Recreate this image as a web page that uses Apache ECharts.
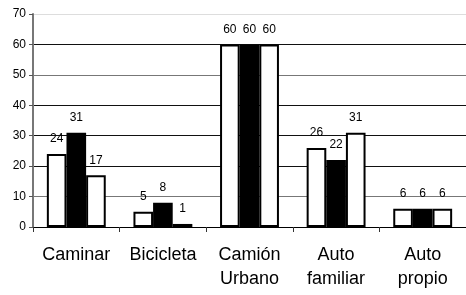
<!DOCTYPE html>
<html><head><meta charset="utf-8">
<script src="https://cdn.jsdelivr.net/npm/echarts@6/dist/echarts.min.js"></script>
<style>html,body{margin:0;padding:0;background:#fff}#c{width:466px;height:295px}</style>
</head><body><div id="c"></div>
<script>
const categories = ['Caminar', 'Bicicleta', 'Camión\nUrbano', 'Auto\nfamiliar', 'Auto\npropio'];
const series1 = [24, 5, 60, 26, 6];
const series2 = [31, 8, 60, 22, 6];
const series3 = [17, 1, 60, 31, 6];
const yTicks = [0, 10, 20, 30, 40, 50, 60, 70];

const font = 'Liberation Sans, Arial, sans-serif';
const lbl = {show: true, position: 'top', distance: 9, color: '#000', fontSize: 12, fontFamily: font};
const chart = echarts.init(document.getElementById('c'), null, {renderer: 'canvas'});
chart.setOption({
  animation: false,
  grid: {left: 33, right: -4, top: 14, bottom: 68, containLabel: false},
  xAxis: {
    type: 'category', data: categories,
    axisLine: {lineStyle: {color: '#000', width: 1}},
    axisTick: {show: true, length: 5, lineStyle: {color: '#333'}},
    axisLabel: {color: '#000', fontSize: 18, lineHeight: 24, margin: 16, fontFamily: font, interval: 0}
  },
  yAxis: {
    type: 'value', min: yTicks[0], max: yTicks[yTicks.length - 1], interval: 10,
    axisLine: {show: true, lineStyle: {color: '#777', width: 2}},
    axisTick: {show: true, length: 4, lineStyle: {color: '#555'}},
    axisLabel: {color: '#000', fontSize: 12, margin: 7, fontFamily: font},
    splitLine: {show: true, lineStyle: {color: ['#000', '#777', '#111', '#111', '#111', '#777', '#111', '#ddd'], width: 1}}
  },
  series: [
    {type: 'bar', data: series1, barGap: '0%', barCategoryGap: '32%',
     itemStyle: {color: '#fff', borderColor: '#000', borderWidth: 2}, label: lbl},
    {type: 'bar', data: series2,
     itemStyle: {color: '#000', borderColor: '#000', borderWidth: 2}, label: lbl},
    {type: 'bar', data: series3,
     itemStyle: {color: '#fff', borderColor: '#000', borderWidth: 2}, label: lbl}
  ]
});
</script></body></html>
